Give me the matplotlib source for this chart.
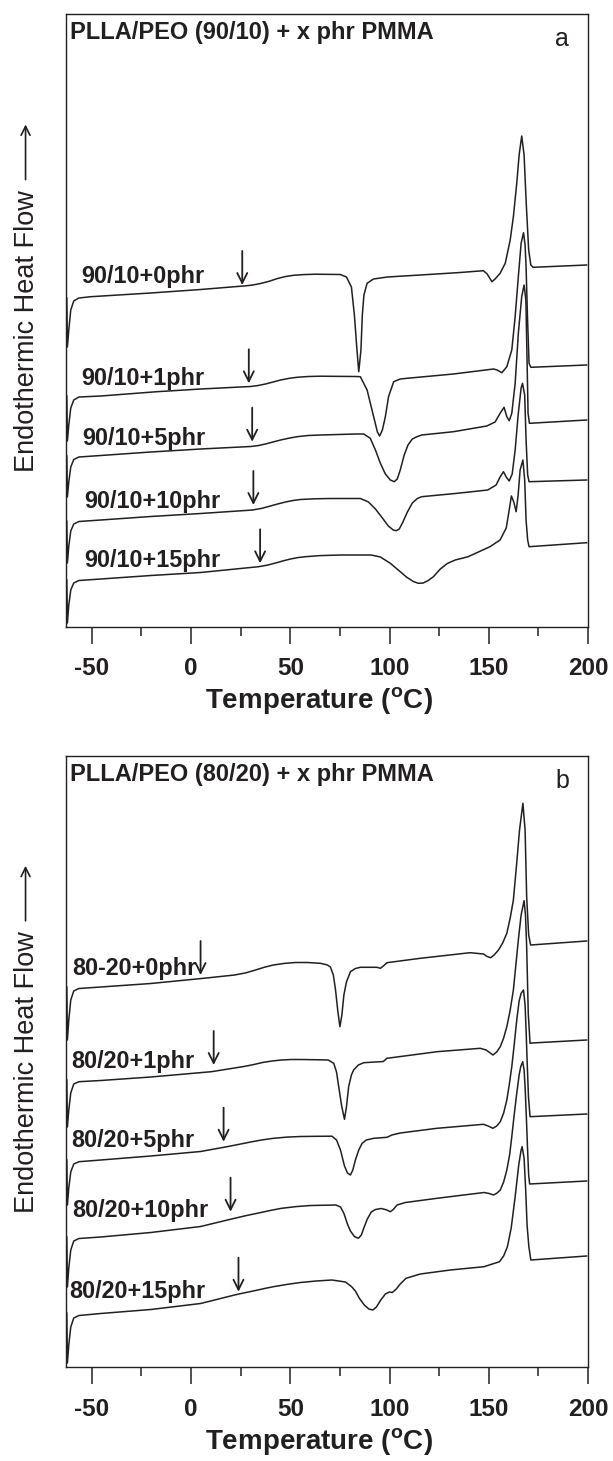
import matplotlib
matplotlib.use("Agg")
import matplotlib.pyplot as plt
from matplotlib.ticker import MultipleLocator

plt.rcParams['font.family'] = ['Liberation Sans', 'DejaVu Sans']
plt.rcParams['axes.unicode_minus'] = False

INK = '#231f20'

# ---- panel a : PLLA/PEO (90/10) + x phr PMMA ----
a0_T = [-62.6, -62.3, -61.6, -60.6, -59.1, -56.5, -50.5, -20.3, 4.8, 26.4, 30.5, 35, 39.3, 43.6, 47.6, 51.6,
        56.6, 62.6, 75.2, 78.3, 80.8, 82.3, 83.6, 84.5, 85.6, 86.3, 87.1, 88.7, 91.9, 98.9, 115.5, 135.6,
        147.3, 149.2, 151.6, 153.2, 155.7, 158.3, 160.8, 162.4, 164.1, 165.3, 166.6, 167.8, 168.8, 170.1,
        171.2, 172.3, 199.3]
a0_H = [328.5, 279.5, 296.5, 316.5, 325.5, 328.5, 329.8, 333.5, 337, 340.5, 341.3, 343, 345.2, 348, 350, 351.2,
        351.9, 352.3, 352, 349.5, 339.5, 311.5, 276.5, 254.8, 276.5, 311.5, 331.5, 343.2, 347.5, 349.5, 351.5, 354,
        355.8, 352.5, 344.8, 347.5, 353.2, 363.2, 386.5, 409.8, 443.2, 471.5, 490.5, 471.5, 426.5, 376.5,
        361.5, 359.2, 361.5]

a1_T = [-62.6, -62.3, -61.6, -60.6, -59.1, -56.5, -45.5, -17.2, 4.8, 29.9, 33.5, 37.5, 41.5, 45.1, 49.5, 53.4,
        59, 65.2, 82.8, 85.3, 88.7, 92, 93.9, 95, 96.4, 97.9, 99.5, 102.1, 105.4, 108.8, 132.2, 152.4,
        154.2, 156.6, 159.1, 161.6, 163.3, 164.9, 166.3, 167.5, 168.3, 168.8, 169.5, 170.3, 171.2, 199.3]
a1_H = [230.5, 185.5, 201.5, 218.5, 226.5, 229.5, 230.5, 234.8, 237.5, 240, 240.9, 242.5, 244.6, 246.5, 248.2, 249.2,
        250, 250.3, 250, 249.8, 236.5, 209.8, 194.5, 190.5, 196.5, 209.8, 229.8, 244.8, 247.5, 248.2, 252.5, 257.5,
        256.5, 253.8, 259.8, 276.5, 309.8, 349.8, 383.2, 393.8, 381.5, 359.8, 309.8, 263.2, 259.2, 261.5]

a2_T = [-62.6, -62.3, -61.6, -60.6, -59.1, -56.5, -45.5, -20.3, 4.8, 30, 33.8, 37.5, 41.5, 45.1, 49.5, 53.4,
        59, 65.2, 82.8, 87, 90.3, 92.9, 95.4, 97.9, 100.4, 102.4, 103.9, 105.4, 107.4, 109.3, 111.5, 113.8,
        116.2, 132.2, 149, 153.2, 155.7, 157.7, 159.1, 160.3, 161.6, 163.3, 164.9, 166.6, 167.8, 168.7,
        169.2, 169.8, 170.5, 199.3]
a2_H = [170.5, 129.5, 144.5, 159.5, 167, 169.5, 171, 174.5, 177.5, 180, 180.9, 182.5, 184.6, 186.5, 188.4, 189.8,
        191, 191.5, 192.5, 192.5, 188.2, 176.5, 163.2, 152.5, 146.5, 144.8, 147.5, 156.5, 171.5, 181.5, 187.5, 189.8,
        191.5, 194.8, 200.5, 204.5, 213.2, 219.2, 209.8, 205.8, 213.2, 243.2, 293.2, 329.8, 341.5, 326.5,
        276.5, 213.2, 203.2, 206.5]

a3_T = [-62.6, -62.3, -61.6, -60.6, -59.1, -56.5, -45.5, -20.3, 4.8, 31, 35.5, 40, 43.8, 47.6, 51.3, 55.1,
        62, 70.2, 85.3, 89.4, 92.9, 96.4, 99.4, 101.9, 103.4, 104.9, 106.5, 109, 111.5, 114, 116.2, 133.1,
        149.5, 153.7, 155.7, 157.4, 158.8, 160.3, 161.8, 163.3, 164.8, 166.3, 167, 168.1, 168.8, 169.6,
        170.3, 199.3]
a3_H = [105.5, 63.5, 80.5, 95.5, 102.5, 105, 106.5, 110, 113, 116.5, 118.1, 120.5, 122.6, 124.5, 126, 127,
        127.7, 128, 128, 124.5, 117.5, 108.5, 100.5, 96.5, 95.8, 97.5, 103.5, 114.5, 123.5, 128, 129.8, 133,
        136.5, 141.5, 149.5, 154.8, 149.5, 145.5, 152.5, 176.5, 211.5, 238.5, 243.2, 231.5, 186.5, 151.5,
        144.8, 146.5]

a4_T = [-62.6, -62.3, -61.6, -60.6, -59.1, -56.5, -45.5, -20.3, 4.8, 34, 38.5, 42.6, 46.5, 50.1, 53.8, 57.6,
        65, 75.2, 90.7, 95.4, 100.4, 104.4, 108.5, 112, 114.5, 117, 119.5, 122.1, 125.6, 129.1, 133.1, 139.6,
        150.6, 155.7, 158.8, 160.3, 161.4, 162.6, 163.8, 164.8, 165.8, 167.2, 168.1, 168.8, 169.6, 170.3, 199.3]
a4_H = [46.5, 3.5, 21.5, 36.5, 43.5, 46, 47.5, 51, 54, 59.8, 61.4, 63.5, 65.7, 67.5, 68.9, 69.8,
        70.9, 71.5, 71.5, 69.5, 63.2, 56.5, 49.5, 45, 43.2, 43.5, 46, 49.8, 57.5, 63, 66.5, 69.8,
        79.8, 86.5, 98.5, 116.5, 130.5, 124.5, 114.8, 131.5, 156.5, 166.5, 146.5, 106.5, 86.5, 79.8, 83.8]

# ---- panel b : PLLA/PEO (80/20) + x phr PMMA ----
b0_T = [-62.6, -62.3, -61.6, -60.6, -59.1, -56.5, -45.5, -20.3, 6.3, 21.9, 27.5, 32.5, 37, 41.5, 47, 52.6,
        58.5, 65.2, 68.7, 70.2, 71.7, 72.8, 74, 75, 76, 77, 78.3, 80.3, 82.8, 85.3, 93.7, 95.4, 96.9, 98.7,
        115.5, 140.6, 147.3, 149.2, 151, 152.7, 154.9, 157, 159.1, 160.8, 162.4, 164, 165.5, 167.2, 168.3,
        169.1, 170.1, 171.1, 199.3]
b0_H = [380.3, 327.3, 347.3, 367.3, 376.3, 378.8, 380.3, 383.8, 389, 392.3, 394.4, 397.3, 400.1, 402.3, 403.9, 404.8,
        404.8, 404, 402.3, 400.3, 392.3, 377.3, 355.3, 340.6, 352.3, 372.3, 385.3, 395.6, 398.8, 400, 400, 399, 401.3,
        404.6, 409, 414.6, 413.3, 410.8, 409.6, 412.3, 417.3, 424.3, 434, 449.3, 467.3, 502.3, 537.3, 564, 537.3,
        470.6, 432.3, 422.3, 426.3]

b1_T = [-62.6, -62.3, -61.6, -60.6, -59.1, -56.5, -45.5, -20.3, 10.2, 26, 31, 36, 40.8, 45.6, 50.3, 55.1,
        62, 69.1, 71.9, 73.3, 74.4, 75.8, 77.3, 78.3, 79.4, 80.8, 81.9, 84.3, 87, 95.4, 96.9, 98.7, 123.9, 145.7,
        148.7, 152.1, 154, 155.8, 157.5, 159.1, 160.8, 162.4, 163.8, 164.9, 166.3, 167.8, 168.5, 169.1, 169.9,
        170.8, 171.6, 199.3]
b1_H = [287.3, 240.3, 257.3, 274.3, 283.3, 285.6, 286.8, 290.3, 295.6, 300.6, 302.5, 304.8, 306.3, 307.3, 307.8, 307.8,
        307.6, 307.3, 304, 295.3, 280.6, 262.3, 248, 260.3, 280.6, 292.3, 297.3, 302.3, 304.6, 305.6, 305.8, 309,
        315.6, 319, 317.3, 312.3, 315.3, 320.6, 329.3, 340.6, 357.3, 377.3, 405.3, 427.3, 452.3, 466.6, 452.3,
        420.6, 354, 324, 324.3, 327.3]

b2_T = [-62.6, -62.3, -61.6, -60.6, -59.1, -56.5, -45.5, -20.3, 4.8, 18.1, 24, 30, 35.8, 41.5, 48.3, 55.1,
        63, 71, 73.3, 75.3, 77.3, 78.8, 80.3, 81.5, 82.8, 84.5, 86.2, 88.3, 92, 98.7, 101.2, 105.4, 123.9, 147.3,
        149.7, 152.1, 154, 155.8, 157.5, 159.1, 160.3, 161.6, 162.8, 164.1, 165.3, 166.3, 167.5, 168.3, 168.8,
        169.4, 170, 170.8, 199.3]
b2_H = [207.3, 162.3, 179.3, 195.3, 203.3, 205.6, 207.3, 211.3, 215.8, 220.6, 222.9, 225.3, 227.4, 229, 230.2, 230.8,
        231, 231.1, 227.3, 217.3, 201.3, 194.3, 192.3, 197.3, 207.3, 217.3, 224, 227.3, 229, 230, 232.3, 234.3,
        239, 243, 241.3, 239, 241.3, 245.6, 254.3, 267.3, 282.3, 300.6, 322.3, 347.3, 366.3, 374, 377.3, 362.3,
        337.3, 302.3, 270.6, 250.6, 253.3]

b3_T = [-62.6, -62.3, -61.6, -60.6, -59.1, -56.5, -45.5, -20.3, 4.8, 21.9, 28, 34, 39.8, 45.6, 52.9, 60.2,
        73, 75.3, 77, 78.8, 80.3, 82.3, 84.3, 85.8, 87.3, 88.8, 90.8, 92.9, 95.8, 98.4, 100.4, 101.9, 103.8,
        108, 123.9, 147.6, 150.2, 152.4, 154.2, 155.8, 157.5, 159.1, 160.5, 161.6, 162.8, 164.1, 165.3, 166.1,
        167.1, 167.8, 168.3, 168.9, 169.5, 170.1, 170.6, 199.3]
b3_H = [130.3, 80.3, 99.3, 117.3, 126.3, 128.8, 130.3, 134.8, 140.8, 149, 151.8, 154.3, 156.8, 159, 160.7, 161.8,
        162.3, 160.3, 154, 143.3, 136.3, 130.8, 129, 132.3, 140.6, 148.3, 155.3, 157.8, 158.8, 157.5, 155.6,
        157.8, 162.3, 164.8, 169, 174.8, 173.8, 172.3, 174.3, 177.3, 185.3, 197.3, 212.3, 230.6, 252.3, 274,
        292.3, 300.6, 305.6, 297.3, 280.6, 252.3, 220.6, 192.3, 183.3, 186.3]

b4_T = [-62.6, -62.3, -61.6, -60.6, -59.1, -56.5, -45.5, -20.3, 4.8, 21.9, 27.2, 32.5, 37, 41.5, 48.3, 55.1,
        63, 71, 77.8, 80.9, 82.8, 84.8, 87.3, 89.6, 91.6, 93.4, 95.6, 97.9, 99.9, 101.4, 103.4, 105.4, 108.3,
        115.5, 130.6, 147.6, 155.4, 157.5, 159.4, 161.3, 163.3, 165.1, 166.3, 166.8, 167.8, 168.6, 169.3,
        170.2, 171.2, 199.3]
b4_H = [54.3, 4.3, 22.3, 40.3, 49.3, 51.8, 53.8, 57.8, 63.8, 72.3, 74.6, 76.8, 78.8, 80.6, 82.9, 84.8,
        86.3, 87.3, 85.3, 80.6, 76.3, 69, 62.3, 58.3, 57.3, 60.3, 67.3, 73.3, 75.3, 74.8, 78.3, 83.3, 89,
        93.3, 97.3, 100.6, 105.6, 111.3, 120.6, 139.3, 170.6, 202.3, 217.3, 220.6, 209.3, 177.3, 142.3,
        120.6, 107.3, 111.3]

# curve labels, label anchor (left T, centre height), Tg arrows (T, tip height)
labels_a = ['90/10+0phr', '90/10+1phr', '90/10+5phr', '90/10+10phr', '90/10+15phr']
label_T_a = [-55.2, -55.2, -54.7, -53.6, -53.6]
label_H_a = [349.8, 248.2, 188.2, 124.8, 66.5]
tg_T_a = [25.8, 29.1, 30.8, 31.4, 34.8]
tg_H_a = [341.5, 243.2, 184.8, 121.5, 63.2]

labels_b = ['80-20+0phr', '80/20+1phr', '80/20+5phr', '80/20+10phr', '80/20+15phr']
label_T_b = [-59.7, -60.6, -60.6, -59.7, -61.6]
label_H_b = [399, 305.6, 227.3, 157.3, 75.6]
tg_T_b = [4.8, 11.4, 16.4, 19.9, 23.9]
tg_H_b = [392.3, 302.3, 225.6, 155.6, 75.6]

xticks = [-50, 0, 50, 100, 150, 200]


def draw_panel(ax, curves, labels, lab_T, lab_H, tg_T, tg_H, title, letter, top):
    for T, H in curves:
        ax.plot(T, H, color=INK, lw=1.1, solid_joinstyle='round')
    for s, x, y in zip(labels, lab_T, lab_H):
        ax.text(x, y, s, fontsize=16.8, fontweight='bold', color=INK, ha='left', va='center')
    for x, y in zip(tg_T, tg_H):
        ax.annotate('', xy=(x, y), xytext=(x, y + 34),
                    arrowprops=dict(arrowstyle='->', color=INK, lw=1.3,
                                    mutation_scale=18, shrinkA=0, shrinkB=0))
    ax.set_xlim(-63, 200)
    ax.set_ylim(0, top)
    ax.set_xticks(xticks)
    ax.xaxis.set_minor_locator(MultipleLocator(25))
    ax.set_yticks([])
    ax.tick_params(axis='x', which='major', direction='out', length=12, width=1.1,
                   labelsize=17.5, pad=10, colors=INK)
    ax.tick_params(axis='x', which='minor', direction='out', length=6.5, width=1.1, colors=INK)
    for lab in ax.get_xticklabels():
        lab.set_fontweight('bold')
    for sp in ax.spines.values():
        sp.set_linewidth(1.0)
        sp.set_color(INK)
    ax.text(0.008, 0.959, title, transform=ax.transAxes, fontsize=17, fontweight='bold',
            color=INK, ha='left', va='baseline')
    ax.text(0.95, 0.948, letter, transform=ax.transAxes, fontsize=18, color=INK,
            ha='center', va='baseline')
    # y label words + long arrow
    ax.text(-0.0747, 0.482, 'Endothermic Heat Flow', transform=ax.transAxes,
            rotation=90, fontsize=19.5, color=INK, ha='center', va='center')
    ax.annotate('', xy=(-0.0775, 0.82), xytext=(-0.0775, 0.73), xycoords='axes fraction',
                textcoords='axes fraction',
                arrowprops=dict(arrowstyle='->', color=INK, lw=1.2,
                                mutation_scale=16, shrinkA=0, shrinkB=0))
    ax.text(0.484, -0.1225, r'Temperature ($^\mathdefault{o}$C)', transform=ax.transAxes,
            fontsize=20, fontweight='bold', color=INK, ha='center', va='center')


fig = plt.figure(figsize=(6.13, 14.61), dpi=100)
ax_a = fig.add_axes([0.10767, 0.57118, 0.85155, 0.41903])
ax_b = fig.add_axes([0.10767, 0.06413, 0.85155, 0.41862])

draw_panel(ax_a, [(a0_T, a0_H), (a1_T, a1_H), (a2_T, a2_H), (a3_T, a3_H), (a4_T, a4_H)],
           labels_a, label_T_a, label_H_a, tg_T_a, tg_H_a,
           'PLLA/PEO (90/10) + x phr PMMA', 'a', 612.2)
draw_panel(ax_b, [(b0_T, b0_H), (b1_T, b1_H), (b2_T, b2_H), (b3_T, b3_H), (b4_T, b4_H)],
           labels_b, label_T_b, label_H_b, tg_T_b, tg_H_b,
           'PLLA/PEO (80/20) + x phr PMMA', 'b', 611.6)

fig.savefig('out.png', dpi=100)
